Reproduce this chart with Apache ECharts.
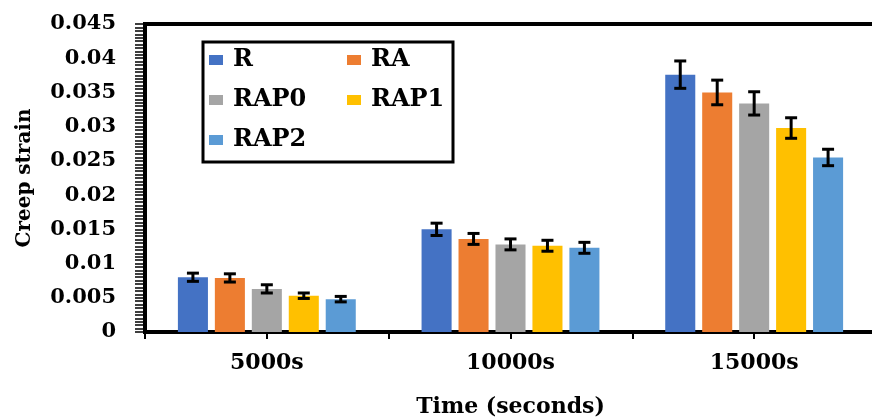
<!DOCTYPE html>
<html><head><meta charset="utf-8">
<script src="https://cdn.jsdelivr.net/npm/echarts@6/dist/echarts.min.js"></script>
<style>html,body{margin:0;padding:0;background:#fff}#c{width:872px;height:419px}</style>
</head><body><div id="c"></div>
<script>
var categories = ['5000s', '10000s', '15000s'];
var seriesNames = ['R', 'RA', 'RAP0', 'RAP1', 'RAP2'];
var valR    = [0.0080, 0.0150, 0.0376];
var valRA   = [0.0079, 0.0136, 0.0350];
var valRAP0 = [0.0063, 0.0128, 0.0334];
var valRAP1 = [0.0053, 0.0126, 0.0298];
var valRAP2 = [0.0048, 0.0123, 0.0255];
var errR    = [0.0006, 0.0009, 0.0020];
var errRA   = [0.0006, 0.0008, 0.0018];
var errRAP0 = [0.0006, 0.0008, 0.0017];
var errRAP1 = [0.0004, 0.0008, 0.0015];
var errRAP2 = [0.0004, 0.0008, 0.0012];
var yTicks = { min: 0, max: 0.045, interval: 0.005 };

var values = [valR, valRA, valRAP0, valRAP1, valRAP2];
var errors = [errR, errRA, errRAP0, errRAP1, errRAP2];
var colors = ['#4472C4', '#ED7D31', '#A5A5A5', '#FFC000', '#5B9BD5'];
var FONT = 'DejaVu Serif';
var catGap = 0.27, barGap = 0.23, n = seriesNames.length;

var series = [];
values.forEach(function (vals, k) {
  series.push({
    name: seriesNames[k], type: 'bar', data: vals,
    itemStyle: { color: colors[k] },
    barGap: (barGap * 100) + '%', barCategoryGap: (catGap * 100) + '%'
  });
});
values.forEach(function (vals, k) {
  series.push({
    type: 'custom', z: 10, silent: true,
    data: vals.map(function (v, i) { return [i, v, errors[k][i]]; }),
    renderItem: function (params, api) {
      var band = api.size([1, 0])[0];
      var w = band * (1 - catGap) / (n + (n - 1) * barGap);
      var groupW = n * w + (n - 1) * w * barGap;
      var off = -groupW / 2 + k * w * (1 + barGap) + w / 2;
      var c = api.value(0), v = api.value(1), e = api.value(2);
      var top = api.coord([c, v + e]);
      var bot = api.coord([c, v - e]);
      var x = top[0] + off, cap = 6;
      var st = { stroke: '#000', lineWidth: 3 };
      return { type: 'group', children: [
        { type: 'line', shape: { x1: x, y1: top[1], x2: x, y2: bot[1] }, style: st },
        { type: 'line', shape: { x1: x - cap, y1: top[1], x2: x + cap, y2: top[1] }, style: st },
        { type: 'line', shape: { x1: x - cap, y1: bot[1], x2: x + cap, y2: bot[1] }, style: st }
      ]};
    }
  });
});

var legendText = { fontFamily: FONT, fontWeight: 'bold', fontSize: 24, color: '#000', lineHeight: 28, padding: [0, 0, 0, 5] };
var chart = echarts.init(document.getElementById('c'), null, { renderer: 'canvas' });
chart.setOption({
  animation: false,
  color: colors,
  grid: { left: 145, top: 24, width: 731, bottom: 87, outerBoundsMode: 'none', containLabel: false,
    show: true, borderColor: '#000', borderWidth: 4, backgroundColor: 'transparent' },
  legend: [
    { data: ['R', 'RAP0', 'RAP2'], orient: 'vertical', left: 204, top: 41, itemGap: 12, itemWidth: 14, itemHeight: 10, icon: 'rect', textStyle: legendText, selectedMode: false },
    { data: ['RA', 'RAP1'], orient: 'vertical', left: 342, top: 41, itemGap: 12, itemWidth: 14, itemHeight: 10, icon: 'rect', textStyle: legendText, selectedMode: false }
  ],
  graphic: [{ type: 'rect', shape: { x: 203, y: 42, width: 250, height: 120 }, style: { fill: 'none', stroke: '#000', lineWidth: 3 }, z: 100 }],
  xAxis: [{
    type: 'category', data: categories,
    name: 'Time (seconds)', nameLocation: 'middle', nameGap: 64,
    nameTextStyle: { fontFamily: FONT, fontWeight: 'bold', fontSize: 22, color: '#000' },
    axisLine: { lineStyle: { color: '#000', width: 4 } },
    axisTick: { show: true, length: 7, lineStyle: { color: '#000', width: 2 } },
    axisLabel: { margin: 20, fontFamily: FONT, fontWeight: 'bold', fontSize: 22, color: '#000' }
  }, {
    type: 'category', data: categories, position: 'bottom', offset: 0,
    axisLine: { show: false },
    axisTick: { show: true, alignWithLabel: true, length: 7, lineStyle: { color: '#000', width: 2 } },
    axisLabel: { show: false }
  }],
  yAxis: {
    type: 'value', min: yTicks.min, max: yTicks.max, interval: yTicks.interval,
    name: 'Creep strain', nameLocation: 'middle', nameGap: 110,
    nameTextStyle: { fontFamily: FONT, fontWeight: 'bold', fontSize: 20, color: '#000' },
    axisLine: { show: true, lineStyle: { color: '#000', width: 4 } },
    axisTick: { show: true, length: 10, lineStyle: { color: '#000', width: 1.5 } },
    minorTick: { show: true, splitNumber: 10, length: 10, lineStyle: { color: '#000', width: 1.5 } },
    splitLine: { show: false },
    axisLabel: { margin: 29, fontFamily: FONT, fontWeight: 'bold', fontSize: 21, color: '#000',
      formatter: function (v) { return String(parseFloat(v.toFixed(4))); } }
  },
  series: series
});
</script></body></html>
